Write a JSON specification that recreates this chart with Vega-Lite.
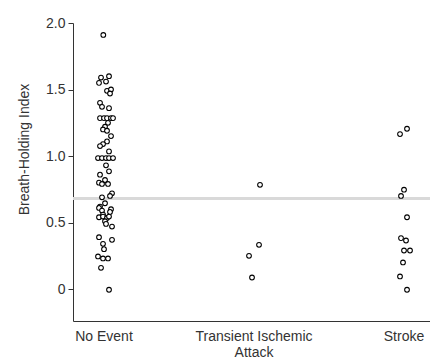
{
  "$schema": "https://vega.github.io/schema/vega-lite/v6.json",
  "width": 357,
  "height": 298,
  "autosize": {"type": "none"},
  "padding": {"left": 73, "top": 23, "right": 0, "bottom": 41},
  "config": {
    "view": {"stroke": null},
    "font": "Liberation Sans",
    "axis": {
      "labelFont": "Liberation Sans",
      "titleFont": "Liberation Sans",
      "labelFontSize": 14,
      "titleFontSize": 14,
      "titleFontWeight": "normal",
      "labelColor": "#333",
      "titleColor": "#333",
      "domainColor": "#333",
      "tickColor": "#333",
      "grid": false
    }
  },
  "layer": [
    {
      "data": {"values": [{"threshold": 0.68}]},
      "mark": {"type": "rule", "color": "#d9d9d9", "strokeWidth": 3},
      "encoding": {
        "y": {"field": "threshold", "type": "quantitative", "scale": {"domain": [-0.24, 2.0], "nice": false, "zero": false}}
      }
    },
    {
      "data": {"values": [
        {"group": "No Event", "bhi": 1.91, "jitter": -0.7},
        {"group": "No Event", "bhi": 1.59, "jitter": -3},
        {"group": "No Event", "bhi": 1.60, "jitter": 5},
        {"group": "No Event", "bhi": 1.55, "jitter": -5},
        {"group": "No Event", "bhi": 1.56, "jitter": 2},
        {"group": "No Event", "bhi": 1.49, "jitter": 3},
        {"group": "No Event", "bhi": 1.50, "jitter": 7},
        {"group": "No Event", "bhi": 1.47, "jitter": 6},
        {"group": "No Event", "bhi": 1.40, "jitter": -4},
        {"group": "No Event", "bhi": 1.37, "jitter": -2},
        {"group": "No Event", "bhi": 1.36, "jitter": 5},
        {"group": "No Event", "bhi": 1.285, "jitter": -4},
        {"group": "No Event", "bhi": 1.285, "jitter": 0},
        {"group": "No Event", "bhi": 1.285, "jitter": 3},
        {"group": "No Event", "bhi": 1.285, "jitter": 7},
        {"group": "No Event", "bhi": 1.285, "jitter": 9},
        {"group": "No Event", "bhi": 1.25, "jitter": 4},
        {"group": "No Event", "bhi": 1.22, "jitter": 1},
        {"group": "No Event", "bhi": 1.20, "jitter": -1},
        {"group": "No Event", "bhi": 1.19, "jitter": 3},
        {"group": "No Event", "bhi": 1.15, "jitter": 7},
        {"group": "No Event", "bhi": 1.11, "jitter": 3},
        {"group": "No Event", "bhi": 1.09, "jitter": -1},
        {"group": "No Event", "bhi": 1.075, "jitter": -4},
        {"group": "No Event", "bhi": 1.035, "jitter": 5},
        {"group": "No Event", "bhi": 0.985, "jitter": -6},
        {"group": "No Event", "bhi": 0.985, "jitter": -2},
        {"group": "No Event", "bhi": 0.985, "jitter": 2},
        {"group": "No Event", "bhi": 0.985, "jitter": 5},
        {"group": "No Event", "bhi": 0.985, "jitter": 9},
        {"group": "No Event", "bhi": 0.93, "jitter": 2},
        {"group": "No Event", "bhi": 0.885, "jitter": 5},
        {"group": "No Event", "bhi": 0.86, "jitter": -4},
        {"group": "No Event", "bhi": 0.82, "jitter": 1},
        {"group": "No Event", "bhi": 0.80, "jitter": -5},
        {"group": "No Event", "bhi": 0.79, "jitter": -2},
        {"group": "No Event", "bhi": 0.79, "jitter": 4},
        {"group": "No Event", "bhi": 0.72, "jitter": 8},
        {"group": "No Event", "bhi": 0.70, "jitter": 6},
        {"group": "No Event", "bhi": 0.69, "jitter": -2},
        {"group": "No Event", "bhi": 0.645, "jitter": 1},
        {"group": "No Event", "bhi": 0.62, "jitter": -4},
        {"group": "No Event", "bhi": 0.60, "jitter": 7},
        {"group": "No Event", "bhi": 0.58, "jitter": 6},
        {"group": "No Event", "bhi": 0.61, "jitter": -5},
        {"group": "No Event", "bhi": 0.59, "jitter": -2},
        {"group": "No Event", "bhi": 0.56, "jitter": -1},
        {"group": "No Event", "bhi": 0.54, "jitter": -5},
        {"group": "No Event", "bhi": 0.545, "jitter": -1},
        {"group": "No Event", "bhi": 0.535, "jitter": 3},
        {"group": "No Event", "bhi": 0.545, "jitter": 5},
        {"group": "No Event", "bhi": 0.51, "jitter": 1},
        {"group": "No Event", "bhi": 0.49, "jitter": 2},
        {"group": "No Event", "bhi": 0.47, "jitter": 8},
        {"group": "No Event", "bhi": 0.39, "jitter": -5},
        {"group": "No Event", "bhi": 0.37, "jitter": 8},
        {"group": "No Event", "bhi": 0.34, "jitter": -1},
        {"group": "No Event", "bhi": 0.30, "jitter": 0},
        {"group": "No Event", "bhi": 0.245, "jitter": -6},
        {"group": "No Event", "bhi": 0.23, "jitter": -1},
        {"group": "No Event", "bhi": 0.23, "jitter": 4},
        {"group": "No Event", "bhi": 0.16, "jitter": -3},
        {"group": "No Event", "bhi": -0.005, "jitter": 5},
        {"group": "Transient Ischemic Attack", "bhi": 0.784, "jitter": 6},
        {"group": "Transient Ischemic Attack", "bhi": 0.333, "jitter": 5},
        {"group": "Transient Ischemic Attack", "bhi": 0.25, "jitter": -5},
        {"group": "Transient Ischemic Attack", "bhi": 0.087, "jitter": -2},
        {"group": "Stroke", "bhi": 1.165, "jitter": -4},
        {"group": "Stroke", "bhi": 1.205, "jitter": 3},
        {"group": "Stroke", "bhi": 0.747, "jitter": 0},
        {"group": "Stroke", "bhi": 0.70, "jitter": -3},
        {"group": "Stroke", "bhi": 0.54, "jitter": 3},
        {"group": "Stroke", "bhi": 0.383, "jitter": -3},
        {"group": "Stroke", "bhi": 0.365, "jitter": 2},
        {"group": "Stroke", "bhi": 0.29, "jitter": 0},
        {"group": "Stroke", "bhi": 0.29, "jitter": 6},
        {"group": "Stroke", "bhi": 0.20, "jitter": -1},
        {"group": "Stroke", "bhi": 0.095, "jitter": -4},
        {"group": "Stroke", "bhi": -0.005, "jitter": 3}
      ]},
      "mark": {"type": "point", "shape": "circle", "filled": true, "fill": "white", "stroke": "black", "strokeWidth": 1.1, "size": 22, "opacity": 1},
      "encoding": {
        "x": {
          "field": "group", "type": "nominal",
          "sort": ["No Event", "Transient Ischemic Attack", "Stroke"],
          "scale": {"type": "band", "paddingInner": 0.8, "paddingOuter": 0.09, "align": 0.593},
          "axis": {
            "title": null, "ticks": false, "labelAngle": 0, "labelPadding": 8,
            "labelLimit": 0, "labelLineHeight": 16, "labelBaseline": "top",
            "labelExpr": "datum.label == 'Transient Ischemic Attack' ? ['Transient Ischemic', 'Attack'] : datum.label"
          }
        },
        "xOffset": {"field": "jitter", "type": "quantitative", "scale": {"domain": [-15, 15]}},
        "y": {
          "field": "bhi", "type": "quantitative",
          "scale": {"domain": [-0.24, 2.0], "nice": false, "zero": false},
          "axis": {
            "title": "Breath-Holding Index",
            "values": [0, 0.5, 1, 1.5, 2],
            "labelExpr": "datum.value == 0 ? '0' : format(datum.value, '.1f')",
            "tickSize": 5, "labelPadding": 3,
            "titleX": -49, "titleY": 126, "titleBaseline": "middle"
          }
        }
      }
    }
  ]
}
